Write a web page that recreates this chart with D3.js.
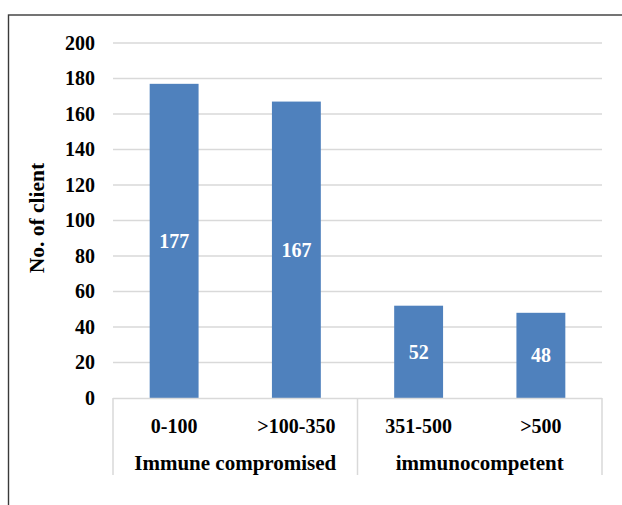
<!DOCTYPE html>
<html lang="en">
<head>
    <meta charset="UTF-8">
    <title>No. of client by CD4 count</title>
    <script src="https://d3js.org/d3.v7.min.js"></script>
    <style>
        body {
            margin: 0;
            background: white;
        }
    </style>
</head>
<body>
    <svg id="vis"></svg>
    <script>
        const categories = ["0-100", ">100-350", "351-500", ">500"];
        const clients = [177, 167, 52, 48];
        const groups = ["Immune compromised", "immunocompetent"];
        const groupSizes = [2, 2];
        const yTicks = [0, 20, 40, 60, 80, 100, 120, 140, 160, 180, 200];

        const width = 622;
        const height = 505;
        const margin = { left: 113, right: 20, top: 43, bottom: 107 };
        const FONT = "'Liberation Serif', 'Times New Roman', Tinos, 'DejaVu Serif', serif";

        const svg = d3.select("#vis")
            .attr("width", width)
            .attr("height", height)
            .style("font-family", FONT)
            .style("font-weight", "bold");

        svg.append("rect")
            .attr("width", width).attr("height", height)
            .attr("fill", "white");

        // chart frame (runs off the right and bottom edges)
        svg.append("rect")
            .attr("x", 8.5).attr("y", 15)
            .attr("width", 700).attr("height", 600)
            .attr("fill", "none")
            .attr("stroke", "#3a3a3a")
            .attr("stroke-width", 1.4);

        const x = d3.scaleBand()
            .domain(categories)
            .range([margin.left, width - margin.right])
            .paddingInner(0.6)
            .paddingOuter(0.3);

        const y = d3.scaleLinear()
            .domain([0, 200])
            .range([height - margin.bottom, margin.top]);

        function label(sel, size = 20) {
            return sel
                .attr("font-family", FONT)
                .attr("font-weight", "bold")
                .attr("font-size", size);
        }

        // gridlines
        svg.append("g")
            .selectAll("line")
            .data(yTicks.filter(d => d > 0))
            .join("line")
            .attr("x1", margin.left)
            .attr("x2", width - margin.right)
            .attr("y1", d => y(d))
            .attr("y2", d => y(d))
            .attr("stroke", "#d9d9d9")
            .attr("stroke-width", 1.5);

        // y tick labels
        svg.append("g")
            .selectAll("text")
            .data(yTicks)
            .join("text")
            .call(label)
            .attr("x", 95)
            .attr("y", d => y(d))
            .attr("dy", "0.34em")
            .attr("text-anchor", "end")
            .attr("fill", "#000")
            .text(d => d);

        // bars
        svg.append("g")
            .selectAll("rect")
            .data(clients)
            .join("rect")
            .attr("x", (d, i) => x(categories[i]))
            .attr("y", d => y(d))
            .attr("width", x.bandwidth())
            .attr("height", d => y(0) - y(d))
            .attr("fill", "#4f81bd");

        // value labels in the middle of each bar
        svg.append("g")
            .selectAll("text")
            .data(clients)
            .join("text")
            .call(label)
            .attr("x", (d, i) => x(categories[i]) + x.bandwidth() / 2)
            .attr("y", d => (y(d) + y(0)) / 2)
            .attr("dy", "0.34em")
            .attr("text-anchor", "middle")
            .attr("fill", "white")
            .text(d => d);

        // category axis
        const axisY = y(0);
        const axisBottom = 475;
        svg.append("line")
            .attr("x1", margin.left).attr("x2", width - margin.right)
            .attr("y1", axisY + 0.5).attr("y2", axisY + 0.5)
            .attr("stroke", "#d9d9d9")
            .attr("stroke-width", 1.5);

        const step = x.step();
        let start = 0;
        const bounds = [0];
        groupSizes.forEach(n => { start += n; bounds.push(start); });

        svg.append("g")
            .selectAll("line")
            .data(bounds)
            .join("line")
            .attr("x1", d => margin.left + d * step)
            .attr("x2", d => margin.left + d * step)
            .attr("y1", axisY)
            .attr("y2", axisBottom)
            .attr("stroke", "#d9d9d9")
            .attr("stroke-width", 1.5);

        svg.append("g")
            .selectAll("text")
            .data(categories)
            .join("text")
            .call(label)
            .attr("x", d => x(d) + x.bandwidth() / 2)
            .attr("y", 433)
            .attr("text-anchor", "middle")
            .attr("fill", "#000")
            .text(d => d);

        svg.append("g")
            .selectAll("text")
            .data(groups)
            .join("text")
            .call(label, 21)
            .attr("x", (d, i) => margin.left + (bounds[i] + bounds[i + 1]) / 2 * step)
            .attr("y", 470)
            .attr("text-anchor", "middle")
            .attr("fill", "#000")
            .text(d => d);

        // y axis title
        svg.append("text")
            .call(label, 21.5)
            .attr("transform", `translate(44, 218) rotate(-90)`)
            .attr("text-anchor", "middle")
            .attr("fill", "#000")
            .text("No. of client");
    </script>
</body>
</html>
